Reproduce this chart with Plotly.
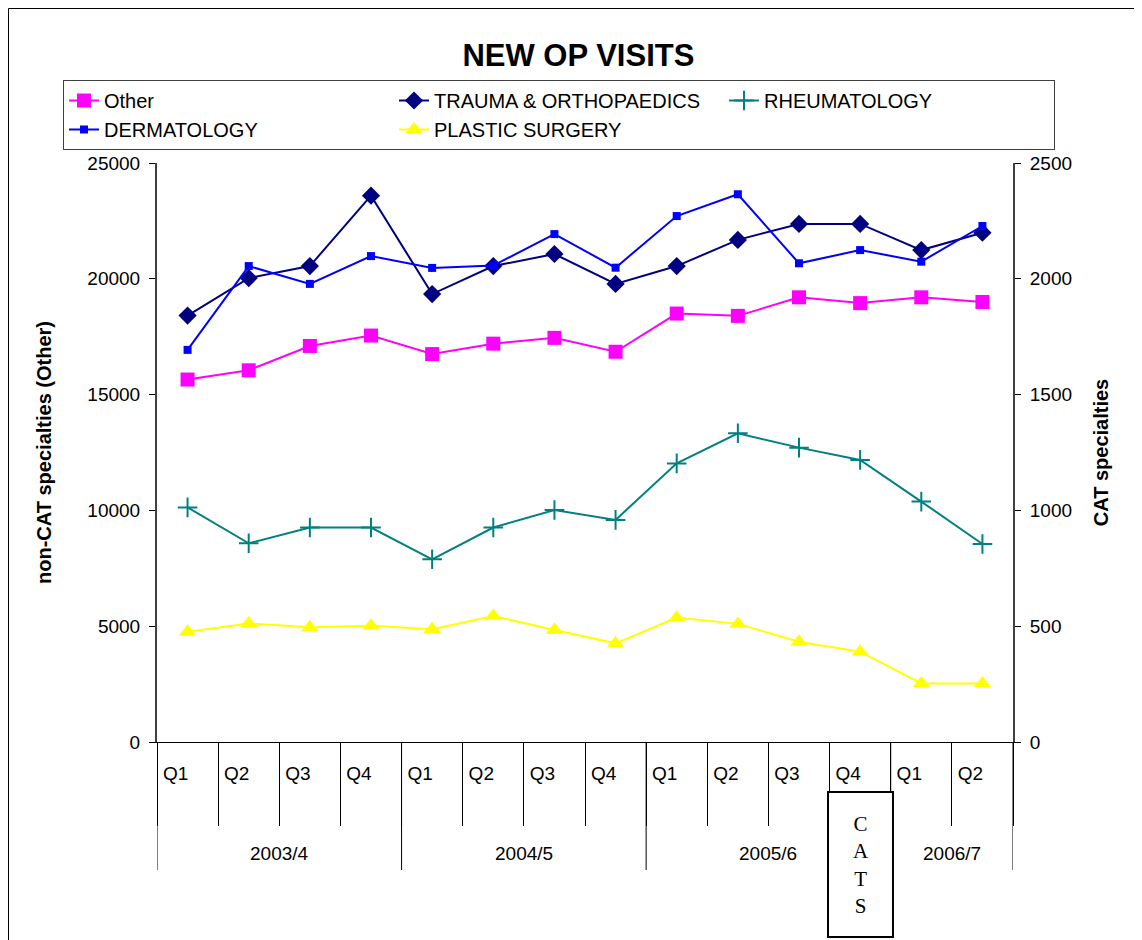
"""
NEW OP VISITS: quarterly new outpatient visits, non-CAT (left axis) vs CAT specialties (right axis).
"""

import plotly.graph_objects as go

# ------------------------------------------------------------------
# Data
# ------------------------------------------------------------------
years = ["2003/4"] * 4 + ["2004/5"] * 4 + ["2005/6"] * 4 + ["2006/7"] * 2
quarters = ["Q1", "Q2", "Q3", "Q4"] * 3 + ["Q1", "Q2"]

other = [15650, 16050, 17100, 17550, 16750, 17200, 17450, 16850,
         18500, 18400, 19200, 18950, 19200, 19000]
trauma = [1841, 2003, 2055, 2359, 1934, 2055, 2107, 1978,
          2055, 2168, 2237, 2237, 2124, 2199]
rheumatology = [1013, 858, 926, 926, 789, 926, 1002, 959,
                1203, 1333, 1271, 1218, 1038, 855]
dermatology = [1693, 2055, 1978, 2098, 2047, 2057, 2193, 2048,
               2271, 2365, 2067, 2124, 2074, 2228]
plastic_surgery = [476, 512, 495, 502, 487, 544, 484, 426,
                   537, 510, 433, 390, 253, 253]

FONT = "Liberation Sans, Arial, sans-serif"

# 每个季度一个唯一类别名，显示时只保留季度标签
categories = [f"{y} {q}" for y, q in zip(years, quarters)]
alias = {c: q for c, q in zip(categories, quarters)}

W, H = 1134, 932
L, R, T, B = 149, 129, 155, 198
PW, PH = W - L - R, H - T - B

fig = go.Figure()

# 非 CAT 专科，左轴
fig.add_trace(go.Scatter(
    x=categories, y=other, name="Other", mode="lines+markers",
    line=dict(color="#FF00FF", width=2),
    marker=dict(symbol="square", size=14, color="#FF00FF"),
))
# CAT 专科，右轴
fig.add_trace(go.Scatter(
    x=categories, y=trauma, name="TRAUMA & ORTHOPAEDICS", mode="lines+markers", yaxis="y2",
    line=dict(color="#000080", width=2),
    marker=dict(symbol="diamond", size=14, color="#000080"),
))
fig.add_trace(go.Scatter(
    x=categories, y=rheumatology, name="RHEUMATOLOGY", mode="lines+markers", yaxis="y2",
    line=dict(color="#008080", width=2),
    marker=dict(symbol="cross-thin", size=14, line=dict(color="#008080", width=2)),
))
fig.add_trace(go.Scatter(
    x=categories, y=dermatology, name="DERMATOLOGY", mode="lines+markers", yaxis="y2",
    line=dict(color="#0000FF", width=2),
    marker=dict(symbol="square", size=8, color="#0000FF"),
))
fig.add_trace(go.Scatter(
    x=categories, y=plastic_surgery, name="PLASTIC SURGERY", mode="lines+markers", yaxis="y2",
    line=dict(color="#FFFF00", width=2),
    marker=dict(symbol="triangle-up", size=15, color="#FFFF00"),
))

fig.update_layout(
    width=W, height=H,
    margin=dict(l=L, r=R, t=T, b=B, autoexpand=False),
    paper_bgcolor="white", plot_bgcolor="white",
    font=dict(family=FONT, size=19, color="black"),
    title=dict(text="<b>NEW OP VISITS</b>", x=0.503, xanchor="center",
               y=1 - 47 / H, yanchor="middle",
               font=dict(family=FONT, size=31, color="black")),
    showlegend=True,
    legend=dict(orientation="h", x=(55 - L) / PW, y=1 + (T - 72) / PH,
                xanchor="left", yanchor="top",
                entrywidth=285, itemwidth=30,
                bordercolor="#404040", borderwidth=1, bgcolor="white",
                font=dict(family=FONT, size=20)),
    xaxis=dict(type="category", range=[-0.5, len(categories) - 0.5],
               labelalias=alias, tickson="boundaries",
               showline=True, linecolor="black", linewidth=1,
               ticks="outside", ticklen=83, tickcolor="black", tickwidth=1,
               ticklabelstandoff=14, ticklabelshift=-12,
               showgrid=False),
    yaxis=dict(range=[0, 25000], dtick=5000, tickformat="d",
               showline=True, linecolor="#404040", linewidth=2,
               ticks="outside", ticklen=6, tickcolor="black", ticklabelstandoff=5,
               showgrid=False, zeroline=False,
               title=dict(text="<b>non-CAT specialties (Other)</b>", standoff=30,
                          font=dict(family=FONT, size=20))),
    yaxis2=dict(range=[0, 2500], dtick=500, tickformat="d", overlaying="y", side="right",
                showline=True, linecolor="#404040", linewidth=2,
                ticks="outside", ticklen=6, tickcolor="black", ticklabelstandoff=5,
                showgrid=False, zeroline=False,
                title=dict(text="<b>CAT specialties</b>", standoff=23,
                           font=dict(family=FONT, size=20))),
)

# 财年分隔线与财年标签
bounds = [i for i in range(len(years)) if i == 0 or years[i] != years[i - 1]] + [len(years)]
for a, b in zip(bounds[:-1], bounds[1:]):
    fig.add_annotation(text=years[a], xref="x", yref="paper",
                       x=(a + b - 1) / 2, y=-111 / PH, showarrow=False,
                       xanchor="center", yanchor="middle",
                       font=dict(family=FONT, size=19))
for a in bounds:
    fig.add_shape(type="line", xref="x", yref="paper",
                  x0=a - 0.5, x1=a - 0.5, y0=0, y1=-128 / PH,
                  line=dict(color="black", width=1))

# 外框
fig.add_shape(type="rect", xref="paper", yref="paper",
              x0=(0.5 - L) / PW, x1=1.5, y0=-0.6, y1=1 + (T - 0.5) / PH,
              line=dict(color="black", width=1), fillcolor="rgba(0,0,0,0)")
# CATS 标记框
fig.add_shape(type="rect", xref="paper", yref="paper",
              x0=0.7839, x1=0.8598, y0=-0.3368, y1=-0.0864,
              line=dict(color="black", width=2), fillcolor="white", layer="above")
fig.add_annotation(text="C<br>A<br>T<br>S", xref="paper", yref="paper",
                   x=0.8219, y=-0.2124, showarrow=False,
                   xanchor="center", yanchor="middle",
                   font=dict(family="Liberation Serif, Times New Roman, serif", size=21, color="black"))

fig.write_html("out.html")
